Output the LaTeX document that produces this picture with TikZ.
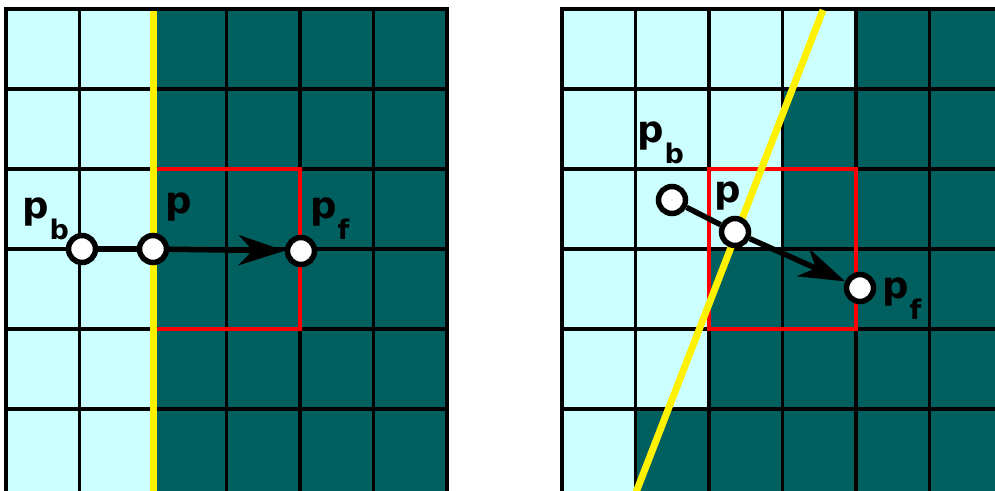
\documentclass[tikz,border=0pt]{standalone}
\usepackage{fontspec}
\setmainfont{DejaVu Sans}
\usetikzlibrary{arrows.meta, positioning}
\definecolor{lightcell}{HTML}{CCFFFF}
\definecolor{darkcell}{HTML}{005F5F}
\newcommand{\lsub}[1]{\kern1pt\raisebox{-21pt}{\fontsize{27}{27}\selectfont #1}}

\begin{document}
\begin{tikzpicture}[x=1pt, y=-1pt,
    pt/.style={circle, draw=black, fill=white, line width=5.5pt, minimum size=27pt, inner sep=0pt},
    lbl/.style={font=\bfseries\fontsize{37}{37}\selectfont, inner sep=0pt, anchor=base west},
    gridline/.style={line width=3.5pt, line cap=rect},
    link/.style={line width=5.5pt},
    box/.style={draw=red, line width=4.5pt},
    border/.style={yellow, line width=7pt}]

    \useasboundingbox (0,0) rectangle (995,490);
    \clip (0,0) rectangle (995,490);

    % Celle
    \fill[lightcell] (6,9) rectangle (153,495);
    \fill[darkcell] (153,9) rectangle (447,495);
    \fill[lightcell] (562,9) rectangle (1003,495);
    \foreach \r/\c in {0/4,1/3,2/3,3/2,4/2,5/1}
        \fill[darkcell] ({562+73.5*\c},{9+80*\r}) rectangle (1003,{95+80*\r});

    % Griglia
    \foreach \i in {0,...,6} {
        \draw[gridline] ({6+73.5*\i},9) -- ({6+73.5*\i},495);
        \draw[gridline] ({562+73.5*\i},9) -- ({562+73.5*\i},495);
    }
    \foreach \j in {0,...,5} {
        \draw[gridline] (6,{9+80*\j}) -- (447,{9+80*\j});
        \draw[gridline] (562,{9+80*\j}) -- (1003,{9+80*\j});
    }

    % Finestre
    \draw[box] (153,169) rectangle (300,329);
    \draw[box] (709,169) rectangle (856,329);

    % Bordi
    \draw[border] (153,11) -- (153,495);
    \draw[border] (823,10) -- (635,495);

    % Punti a sinistra
    \node[pt] (pbL) at (82,249) {};
    \node[pt] (pL) at (153,249) {};
    \node[pt] (pfL) at (301,251) {};
    \draw[link] (pbL) -- (pL);
    \draw[link, -{Stealth[length=46pt, width=30pt, inset=14pt]}] (pL) -- (pfL);

    \node[lbl] (lpbL) at (22,218) {p\lsub{b}};
    \node[lbl] (lpL) at (165,213) {p};
    \node[lbl] (lpfL) at (310,218) {p\lsub{f}};

    % Punti a destra
    \node[pt] (pbR) at (672,200) {};
    \node[pt] (pR) at (735,232) {};
    \node[pt] (pfR) at (860,288) {};
    \draw[link] (pbR) -- (pR);
    \draw[link, -{Stealth[length=46pt, width=30pt, inset=14pt]}] (pR) -- (pfR);

    \node[lbl] (lpbR) at (637,142) {p\lsub{b}};
    \node[lbl] (lpR) at (714,202) {p};
    \node[lbl] (lpfR) at (882,298) {p\lsub{f}};
\end{tikzpicture}
\end{document}
